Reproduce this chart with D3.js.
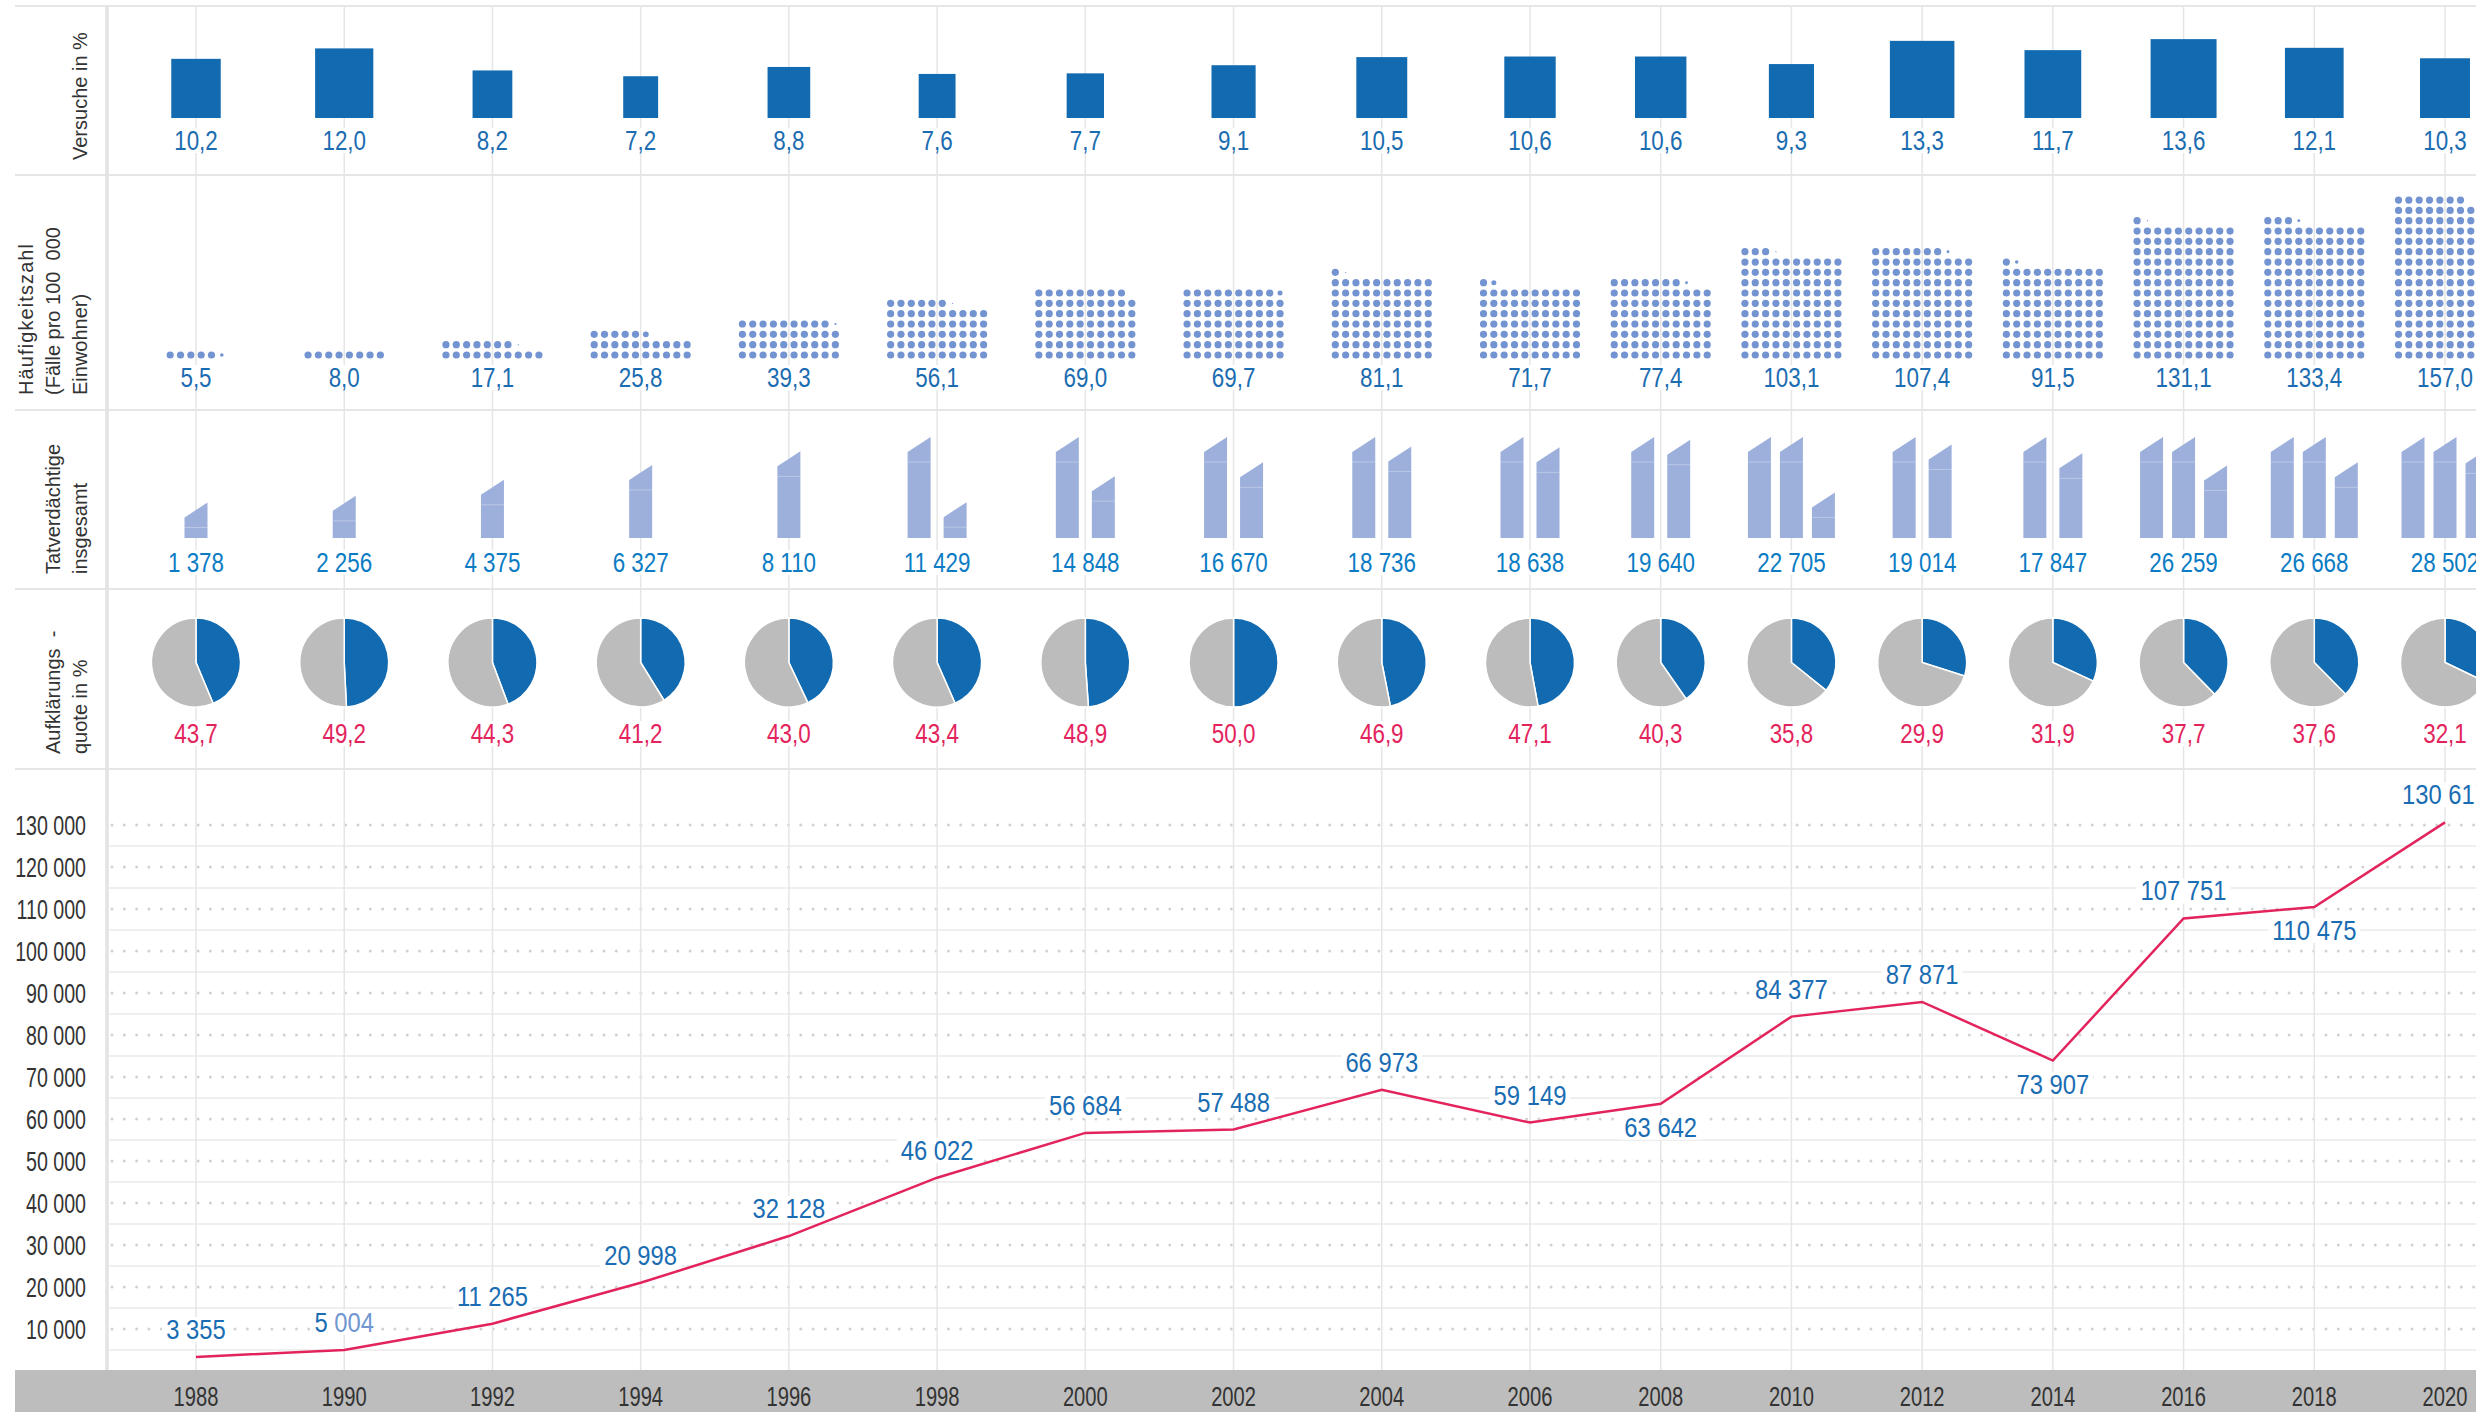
<!DOCTYPE html>
<html>
<head>
    <meta charset="UTF-8">
    <title>Fälle, Versuche, Tatverdächtige, Aufklärungsquote 1988-2020</title>
    <style>
        body { margin: 0; background: #fff; overflow: hidden; }
        svg { display: block; }
        .num { font-family: "Liberation Sans", Arial, sans-serif; font-size: 28px; }
        .rowlabel { font-family: "Liberation Sans", Arial, sans-serif; font-size: 20px; fill: #333; white-space: pre; }
    </style>
</head>
<body>
    <div id="chart"></div>

    <script src="https://cdnjs.cloudflare.com/ajax/libs/d3/7.8.5/d3.min.js"></script>
    <script>
        // Daten
        var years = [1988, 1990, 1992, 1994, 1996, 1998, 2000, 2002, 2004, 2006, 2008, 2010, 2012, 2014, 2016, 2018, 2020];
        var versuche = [10.2, 12.0, 8.2, 7.2, 8.8, 7.6, 7.7, 9.1, 10.5, 10.6, 10.6, 9.3, 13.3, 11.7, 13.6, 12.1, 10.3];
        var haeufigkeit = [5.5, 8.0, 17.1, 25.8, 39.3, 56.1, 69.0, 69.7, 81.1, 71.7, 77.4, 103.1, 107.4, 91.5, 131.1, 133.4, 157.0];
        var tatverdaechtige = [1378, 2256, 4375, 6327, 8110, 11429, 14848, 16670, 18736, 18638, 19640, 22705, 19014, 17847, 26259, 26668, 28502];
        var aufklaerung = [43.7, 49.2, 44.3, 41.2, 43.0, 43.4, 48.9, 50.0, 46.9, 47.1, 40.3, 35.8, 29.9, 31.9, 37.7, 37.6, 32.1];
        var faelle = [3355, 5004, 11265, 20998, 32128, 46022, 56684, 57488, 66973, 59149, 63642, 84377, 87871, 73907, 107751, 110475, 130617];
        var labelBelow = [2008, 2014, 2018]; // Jahre, deren Fallzahl unter der Linie steht
        var yTicks = [10000, 20000, 30000, 40000, 50000, 60000, 70000, 80000, 90000, 100000, 110000, 120000, 130000];
        var rowTitles = [
            ["Versuche in %"],
            ["Häufigkeitszahl", "(Fälle pro 100  000", "Einwohner)"],
            ["Tatverdächtige", "insgesamt"],
            ["Aufklärungs  -", "quote in %"]
        ];

        // Layout
        var width = 2476;
        var height = 1412;
        var rowTops = [6, 175, 410, 589, 769];
        var plotBottom = 1370;
        var blue = "#126bb1", pink = "#e3245c";

        var de = d3.formatLocale({ decimal: ",", thousands: " ", grouping: [3], currency: ["", " €"] });
        var fmt1 = de.format(",.1f");
        var fmtInt = de.format(",d");

        // Jahre stehen nicht ganz gleichmäßig: ab 2006 enger
        var x = d3.scaleLinear().domain([1988, 2006, 2020]).range([196, 1530, 2445]);
        var y = d3.scaleLinear().domain([0, 130000]).range([1371, 825]);

        var barW = d3.scaleLinear().domain([0, 10]).range([0, 48.5]);
        var barH = d3.scaleLinear().domain([0, 10]).range([0, 58]);
        var bodyH = d3.scaleLinear().domain([0, 10000]).range([0, 76]);

        var svg = d3.select("#chart").append("svg")
            .attr("width", width)
            .attr("height", height);

        var gridLayer = svg.append("g");
        var bgLayer = svg.append("g");
        var markLayer = svg.append("g");
        var textLayer = svg.append("g");

        // Schmale Schrift nachbilden (keine Condensed-Schrift installiert)
        function narrow(sel, f) {
            sel.each(function () {
                var len = this.getComputedTextLength();
                d3.select(this).attr("textLength", len * f).attr("lengthAdjust", "spacingAndGlyphs");
            });
        }

        // Raster
        gridLayer.selectAll("line.row")
            .data(rowTops)
            .enter().append("line")
            .attr("x1", 15).attr("x2", width)
            .attr("y1", function (d) { return d; }).attr("y2", function (d) { return d; })
            .style("stroke", "#e6e6e6").style("stroke-width", 2);

        gridLayer.append("line")
            .attr("x1", 107).attr("x2", 107).attr("y1", rowTops[0]).attr("y2", plotBottom)
            .style("stroke", "#e3e3e3").style("stroke-width", 3.5);

        // Liniendiagramm: durchgezogene Zwischenlinien und gepunktete Tick-Linien
        gridLayer.selectAll("line.half")
            .data(yTicks)
            .enter().append("line")
            .attr("x1", 109).attr("x2", width)
            .attr("y1", function (d) { return y(d - 5000); }).attr("y2", function (d) { return y(d - 5000); })
            .style("stroke", "#efefef").style("stroke-width", 2);

        gridLayer.selectAll("line.dot")
            .data(yTicks)
            .enter().append("line")
            .attr("x1", 112).attr("x2", width)
            .attr("y1", function (d) { return y(d); }).attr("y2", function (d) { return y(d); })
            .style("stroke", "#d2d2d2").style("stroke-width", 3)
            .style("stroke-linecap", "round").style("stroke-dasharray", "0,12.3");

        gridLayer.selectAll("line.year")
            .data(years)
            .enter().append("line")
            .attr("x1", function (d) { return x(d); }).attr("x2", function (d) { return x(d); })
            .attr("y1", rowTops[0]).attr("y2", plotBottom)
            .style("stroke", "#e6e6e6").style("stroke-width", 1.5);

        // Beschriftung mit weißem Hintergrund
        function label(cx, baseline, str, color, f, fadeFrom) {
            var t = textLayer.append("text")
                .attr("class", "num")
                .attr("x", cx).attr("y", baseline)
                .attr("text-anchor", "middle")
                .style("fill", color);
            if (fadeFrom) {
                // im Original ist der hintere Teil heller gesetzt
                t.append("tspan").text(str.slice(0, fadeFrom));
                t.append("tspan").style("fill", "#7196d0").text(str.slice(fadeFrom));
            } else {
                t.text(str);
            }
            narrow(t, f);
            var b = t.node().getBBox();
            bgLayer.append("rect")
                .attr("x", b.x - 4).attr("y", b.y + 3)
                .attr("width", b.width + 8).attr("height", b.height - 6)
                .style("fill", "#fff");
            return t;
        }

        // Zeile 1: Versuche
        markLayer.selectAll("rect.versuch")
            .data(versuche)
            .enter().append("rect")
            .attr("x", function (d, i) { return x(years[i]) - barW(d) / 2; })
            .attr("y", function (d) { return 118 - barH(d); })
            .attr("width", function (d) { return barW(d); })
            .attr("height", function (d) { return barH(d); })
            .style("fill", blue);
        versuche.forEach(function (d, i) { label(x(years[i]), 150, fmt1(d), "#1b6cb0", 0.8); });

        // Zeile 2: Häufigkeitszahl als Punkte (1 Punkt = 1 Fall pro 100 000)
        var dotStep = 10.33, dotR = 3.6;
        haeufigkeit.forEach(function (v, i) {
            var full = Math.floor(v + 1e-9);
            var frac = Math.round((v - full) * 10) / 10;
            var n = full + (frac > 0 ? 1 : 0);
            var span = Math.min(n, 10) - 1;
            var x0 = x(years[i]) - span * dotStep / 2;
            var dots = d3.range(n).map(function (k) {
                return { col: k % 10, row: Math.floor(k / 10), r: k < full ? dotR : Math.max(0.6, dotR * frac) };
            });
            markLayer.append("g").selectAll("circle")
                .data(dots)
                .enter().append("circle")
                .attr("cx", function (d) { return x0 + d.col * dotStep; })
                .attr("cy", function (d) { return 355 - d.row * dotStep; })
                .attr("r", function (d) { return d.r; })
                .style("fill", "#7394d0");
            label(x(years[i]), 387, fmt1(v), "#1b6cb0", 0.8);
        });

        // Zeile 3: Tatverdächtige (1 Figur = 10 000)
        var figBottom = 538, figW = 23;
        tatverdaechtige.forEach(function (v, i) {
            var parts = [];
            for (var rest = v; rest > 0; rest -= 10000) parts.push(Math.min(rest, 10000));
            var step = parts.length > 2 ? 32 : 36;
            parts.forEach(function (p, k) {
                var left = x(years[i]) + (k - (parts.length - 1) / 2) * step - figW / 2;
                var top = figBottom - bodyH(p);
                markLayer.append("path")
                    .attr("d", "M" + left + "," + figBottom + "V" + (top - 10) + "L" + (left + figW) + "," + (top - 25) + "V" + figBottom + "Z")
                    .style("fill", "#9db0dc");
                markLayer.append("line")
                    .attr("x1", left).attr("x2", left + figW).attr("y1", top).attr("y2", top)
                    .style("stroke", "#fff").style("stroke-opacity", 0.3).style("stroke-width", 1);
            });
            label(x(years[i]), 572, fmtInt(v), "#0b7cc4", 0.8);
        });

        // Zeile 4: Aufklärungsquote
        var pie = d3.pie().sort(null);
        var arc = d3.arc().innerRadius(0).outerRadius(44.5);
        aufklaerung.forEach(function (v, i) {
            markLayer.append("g")
                .attr("transform", "translate(" + x(years[i]) + ",662.5)")
                .selectAll("path")
                .data(pie([v, 100 - v]))
                .enter().append("path")
                .attr("d", arc)
                .style("fill", function (d, k) { return k === 0 ? blue : "#bcbcbc"; })
                .style("stroke", "#fff").style("stroke-width", 1.5);
            label(x(years[i]), 743, fmt1(v), pink, 0.8);
        });

        // Zeile 5: Fälle
        markLayer.append("path")
            .datum(faelle)
            .attr("d", d3.line()
                .x(function (d, i) { return x(years[i]); })
                .y(function (d) { return y(d); }))
            .style("fill", "none")
            .style("stroke", pink)
            .style("stroke-width", 2.5);

        faelle.forEach(function (v, i) {
            var below = labelBelow.indexOf(years[i]) >= 0;
            var base = y(v) + (below ? 23 : -28) + 10;
            label(x(years[i]), base, fmtInt(v), "#1a6db3", 0.85, years[i] === 1990 ? 2 : 0);
        });

        // y-Achse
        textLayer.selectAll("text.ytick")
            .data(yTicks)
            .enter().append("text")
            .attr("class", "num")
            .attr("x", 86)
            .attr("y", function (d) { return y(d) + 10; })
            .attr("text-anchor", "end")
            .style("fill", "#333")
            .text(function (d) { return fmtInt(d); })
            .call(narrow, 0.7);

        // x-Achse
        svg.append("rect")
            .attr("x", 15).attr("y", plotBottom)
            .attr("width", width - 15).attr("height", height - plotBottom)
            .style("fill", "#bdbdbd");
        svg.selectAll("text.year")
            .data(years)
            .enter().append("text")
            .attr("class", "num")
            .attr("x", function (d) { return x(d); })
            .attr("y", 1406)
            .attr("text-anchor", "middle")
            .style("fill", "#333")
            .text(function (d) { return d; })
            .call(narrow, 0.72);

        // Zeilentitel (gedreht)
        rowTitles.forEach(function (lines, r) {
            var t = textLayer.append("text")
                .attr("class", "rowlabel")
                .attr("transform", "translate(0," + (rowTops[r + 1] - 15) + ") rotate(-90)");
            lines.forEach(function (line, k) {
                t.append("tspan")
                    .attr("x", 0)
                    .attr("y", 87 - (lines.length - 1 - k) * 27)
                    .style("letter-spacing", line === "Häufigkeitszahl" ? "1.1px" : null)
                    .text(line);
            });
        });
    </script>
</body>
</html>
